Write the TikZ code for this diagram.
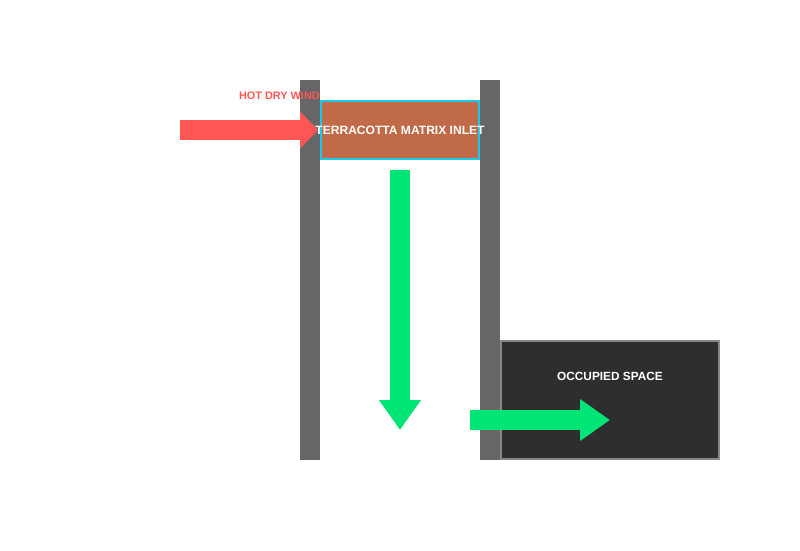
\documentclass[tikz,border=0pt]{standalone}
\usepackage{fontspec}
\setmainfont{Liberation Sans}
\usetikzlibrary{arrows.meta}
\definecolor{wallgray}{HTML}{666666}
\definecolor{terracotta}{HTML}{C06A48}
\definecolor{inletcyan}{HTML}{1EC8E8}
\definecolor{windred}{HTML}{FF5555}
\definecolor{flowgreen}{HTML}{00E676}
\definecolor{roomdark}{HTML}{2E2E2E}
\definecolor{roomedge}{HTML}{888888}

\begin{document}
\begin{tikzpicture}[x=0.03cm,y=-0.03cm,
  wall/.style={fill=wallgray},
  inletbox/.style={draw=inletcyan, line width=0.06cm, fill=terracotta, minimum width=4.74cm, minimum height=1.74cm, inner sep=0pt},
  roombox/.style={draw=roomedge, line width=0.06cm, fill=roomdark, minimum width=6.54cm, minimum height=3.54cm, inner sep=0pt},
  boxtext/.style={text=white, inner sep=0pt, font=\bfseries\fontsize{10.3}{12}\selectfont},
  windarrow/.style={draw=windred, line width=0.6cm, -{Triangle[length=0.54cm, width=1.08cm]}},
  flowarrow/.style={draw=flowgreen, line width=0.6cm, -{Triangle[length=0.9cm, width=1.2cm]}}]
\useasboundingbox (0,0) rectangle (800,550);
% walls of the tower
\fill[wall] (300,80) rectangle (320,460);
\fill[wall] (480,80) rectangle (500,460);
% inlet and room
\node[inletbox] (inlet) at (400,130) {};
\node[roombox] (room) at (610,400) {};
\node[boxtext, font=\bfseries\fontsize{10.1}{12}\selectfont] (roomlabel) at (610,376) {OCCUPIED SPACE};
% wind in
\coordinate (windstart) at (180,130);
\coordinate (windend) at (318,130);
\draw[windarrow] (windstart) -- (windend);
\node[text=windred, inner sep=0pt, font=\bfseries\fontsize{9.3}{11}\selectfont, anchor=east] (windlabel) at (320,96) {HOT DRY WIND};
% cool air down and out
\coordinate (downstart) at (400,170);
\coordinate (downend) at (400,430);
\draw[flowarrow] (downstart) -- (downend);
\coordinate (outstart) at (470,420);
\coordinate (outend) at (610,420);
\draw[flowarrow] (outstart) -- (outend);
\node[boxtext] (inletlabel) at (400,130) {TERRACOTTA MATRIX INLET};
\end{tikzpicture}
\end{document}
